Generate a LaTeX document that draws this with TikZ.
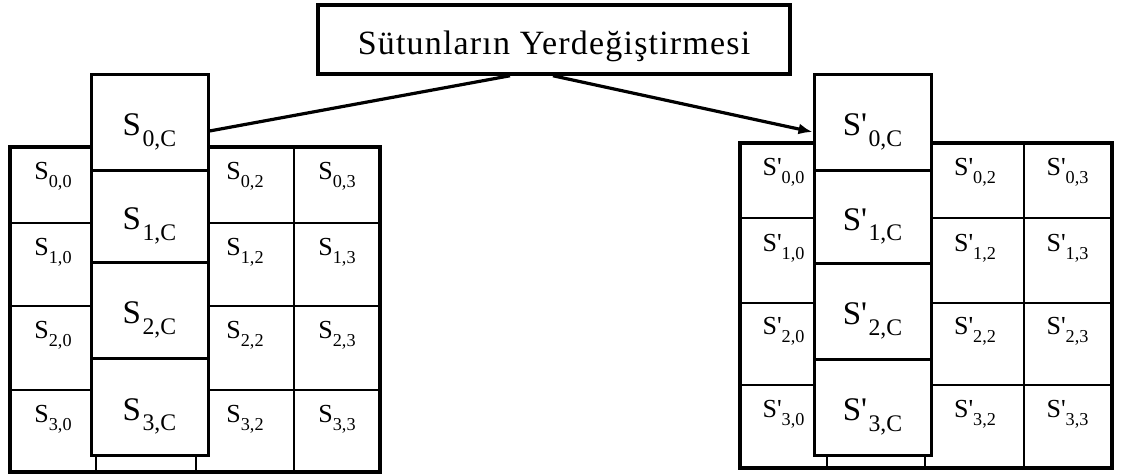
\documentclass[tikz,border=0pt]{standalone}
\usepackage{fontspec}
\setmainfont{Liberation Serif}
\usetikzlibrary{arrows.meta}
\newcommand{\lsub}[1]{\raisebox{-0.34em}{\scalebox{0.7}{#1}}}
\newcommand{\csub}[1]{\kern1.5pt\raisebox{-0.32em}{\scalebox{0.72}{#1}}}
\newcommand{\pr}{\textquotesingle}
\begin{document}
\begin{tikzpicture}[x=1pt,y=-1pt,
  frame/.style={line width=4.5pt},
  gridline/.style={line width=2.6pt},
  cbox/.style={draw, fill=white, line width=3pt, inner sep=0pt,
    minimum width=117pt, text height=31pt, text depth=4pt,
    font=\fontsize{33}{36}\selectfont},
  celllab/.style={anchor=base, inner sep=0pt, font=\fontsize{26}{28}\selectfont},
  conn/.style={line width=3.2pt},
  titlebox/.style={draw, line width=3.5pt, inner sep=0pt, minimum width=472pt,
    minimum height=69pt, text height=36pt, text depth=7pt,
    font=\fontsize{34}{38}\selectfont\addfontfeature{LetterSpace=3.5}}
]
\useasboundingbox (0,0) rectangle (1123,475);

% ---------- left grid ----------
\draw[frame] (10,147) rectangle (380,472);
\foreach \yy in {223,306,390} \draw[gridline] (10,\yy) -- (380,\yy);
\draw[gridline] (294,147) -- (294,472);
\draw[gridline] (96,455) -- (96,472);
\draw[gridline] (196,455) -- (196,472);
\node[cbox, minimum height=96pt] (c0) at (149.5,122) {S\csub{0,C}};
\node[cbox, minimum height=92pt] (c1) at (149.5,216) {S\csub{1,C}};
\node[cbox, minimum height=96pt] (c2) at (149.5,310) {S\csub{2,C}};
\node[cbox, minimum height=97pt] (c3) at (149.5,406.5) {S\csub{3,C}};

\foreach \r/\yy in {0/179,1/255,2/338,3/422}{
  \node[celllab] (l\r0) at (53,\yy) {S\lsub{\r,0}};
  \node[celllab] (l\r2) at (245,\yy) {S\lsub{\r,2}};
  \node[celllab] (l\r3) at (337,\yy) {S\lsub{\r,3}};
}

% ---------- right grid ----------
\draw[frame] (740,143) rectangle (1112,468);
\foreach \yy in {218,303,385} \draw[gridline] (740,\yy) -- (1112,\yy);
\draw[gridline] (1024,143) -- (1024,468);
\draw[gridline] (827,455) -- (827,468);
\draw[gridline] (925,455) -- (925,468);
\node[cbox, minimum height=96pt] (d0) at (872.5,122) {S\pr\csub{0,C}};
\node[cbox, minimum height=93pt] (d1) at (872.5,216.5) {S\pr\csub{1,C}};
\node[cbox, minimum height=96pt] (d2) at (872.5,311) {S\pr\csub{2,C}};
\node[cbox, minimum height=96pt] (d3) at (872.5,407) {S\pr\csub{3,C}};

\foreach \r/\yy in {0/175,1/251,2/334,3/417}{
  \node[celllab] (m\r0) at (783.5,\yy) {S\pr\lsub{\r,0}};
  \node[celllab] (m\r2) at (975,\yy) {S\pr\lsub{\r,2}};
  \node[celllab] (m\r3) at (1067.5,\yy) {S\pr\lsub{\r,3}};
}

% ---------- title and connectors ----------
\node[titlebox] (title) at (554,39.5) {Sütunların Yerdeğiştirmesi};
\draw[conn] ([yshift=-9pt]c0.east) -- ([xshift=-44pt]title.south);
\draw[conn, -{Latex[length=14pt,width=11pt]}] ([xshift=-1pt]title.south) -- ([yshift=-10pt]d0.west);
\end{tikzpicture}
\end{document}
